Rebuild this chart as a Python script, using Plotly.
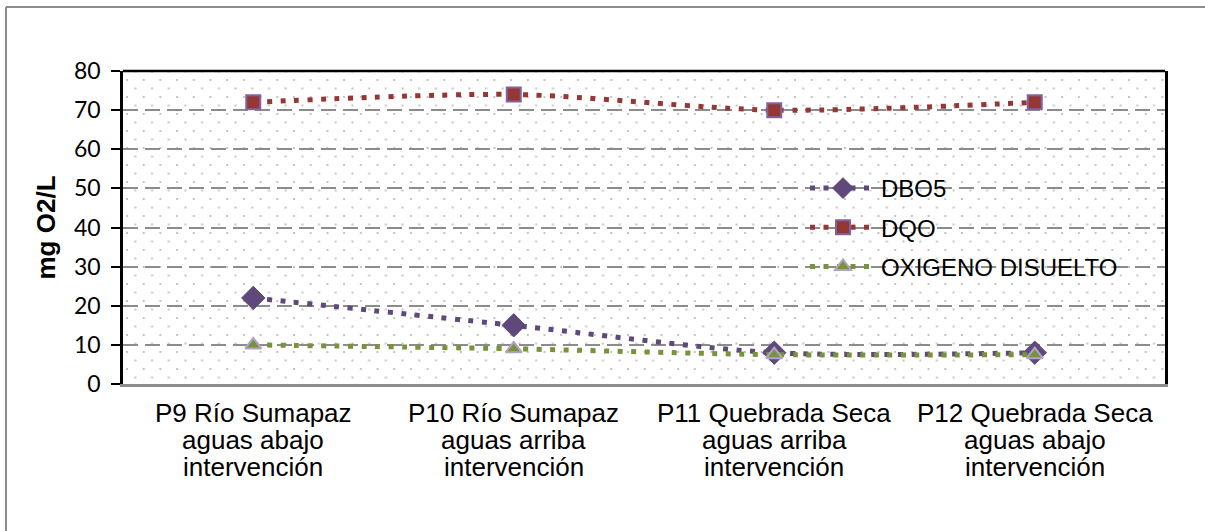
import base64
import plotly.graph_objects as go

# Sampling points (each label is split into three lines under the axis)
categories = [
    "P9 Río Sumapaz<br>aguas abajo<br>intervención",
    "P10 Río Sumapaz<br>aguas arriba<br>intervención",
    "P11 Quebrada Seca<br>aguas arriba<br>intervención",
    "P12 Quebrada Seca<br>aguas abajo<br>intervención",
]
dbo5 = [22, 15, 8, 8]
dqo = [72, 74, 70, 72]
oxigeno = [10, 9, 7.5, 7.5]
y_ticks = [0, 10, 20, 30, 40, 50, 60, 70, 80]

W, H = 1205, 531
L, R, T, B = 123, 40, 71, 147
pw, ph = W - L - R, H - T - B

xpos = list(range(len(categories)))

# dotted background fill for the plot area
svg = (
    f'<svg xmlns="http://www.w3.org/2000/svg" width="{pw}" height="{ph}">'
    '<defs><pattern id="p" width="16.7" height="17" patternUnits="userSpaceOnUse" x="3" y="8">'
    '<rect x="0" y="0" width="2" height="2" fill="#c4c4c4"/>'
    '<rect x="8.35" y="8.5" width="2" height="2" fill="#c4c4c4"/>'
    '</pattern></defs>'
    f'<rect width="{pw}" height="{ph}" fill="url(#p)"/></svg>'
)
bg_uri = "data:image/svg+xml;base64," + base64.b64encode(svg.encode()).decode()

fig = go.Figure()

series = [
    ("DBO5", dbo5, "#5f497a", dict(symbol="diamond", size=18, color="#5f497a",
                                     line=dict(color="#604a7b", width=1))),
    ("DQO", dqo, "#953735", dict(symbol="square", size=14, color="#953735",
                                   line=dict(color="#8064a2", width=2))),
    ("OXIGENO DISUELTO", oxigeno, "#77933c", dict(symbol="triangle-up", size=14, color="#77933c",
                                                    line=dict(color="#b3a2c7", width=2))),
]
for name, vals, col, mk in series:
    fig.add_trace(go.Scatter(
        x=xpos, y=vals, name=name, mode="lines+markers",
        line=dict(color=col, width=5, dash="5px,8.5px", shape="spline", smoothing=0.8),
        marker=mk, legendgroup=name,
    ))

# category labels, one annotation per text line
annotations = []
for i, lab in enumerate(categories):
    for j, line in enumerate(lab.split("<br>")):
        annotations.append(dict(
            x=i, xref="x", y=0, yref="paper", text=line, showarrow=False,
            xanchor="center", yanchor="middle", yshift=-29 - 27 * j,
            font=dict(family="Liberation Sans, Arial", size=26, color="#000000"),
        ))
annotations.append(dict(
    x=(45 - L) / pw, xref="paper", y=0.5, yref="paper", text="<b>mg O2/L</b>",
    textangle=-90, showarrow=False, xanchor="center", yanchor="middle",
    font=dict(family="Liberation Sans, Arial", size=26, color="#000000"),
))

fig.update_layout(
    width=W, height=H,
    margin=dict(l=L, r=R, t=T, b=B),
    paper_bgcolor="white",
    plot_bgcolor="rgba(0,0,0,0)",
    showlegend=True,
    legend=dict(
        x=(805 - L) / pw, y=(H - B - 166) / ph, xanchor="left", yanchor="top",
        bgcolor="rgba(0,0,0,0)", itemwidth=66, traceorder="grouped", tracegroupgap=5,
        font=dict(family="Liberation Sans, Arial", size=24, color="#000000"),
    ),
    annotations=annotations,
    images=[dict(source=bg_uri, xref="paper", yref="paper", x=0, y=1, sizex=1, sizey=1,
                 xanchor="left", yanchor="top", sizing="stretch", layer="below")],
    shapes=[
        # outer chart frame (left and top edges)
        dict(type="line", xref="paper", yref="paper",
             x0=(6 - L) / pw, x1=(6 - L) / pw, y0=-(B + 20) / ph, y1=1 + (T - 7) / ph,
             line=dict(color="#8c8c8c", width=2)),
        dict(type="line", xref="paper", yref="paper",
             x0=(6 - L) / pw, x1=(W + 20 - L) / pw, y0=1 + (T - 7) / ph, y1=1 + (T - 7) / ph,
             line=dict(color="#8c8c8c", width=2)),
        # top edge of plot area
        dict(type="line", xref="paper", yref="paper", x0=0, x1=1, y0=1, y1=1,
             line=dict(color="#000000", width=2.5)),
    ],
)

fig.update_xaxes(
    range=[-0.5, len(categories) - 0.5], showticklabels=False, ticks="",
    showgrid=False, zeroline=False,
    showline=True, linecolor="#8c8c8c", linewidth=2.5,
)
fig.update_yaxes(
    range=[0, 80], tickvals=y_ticks, ticks="outside", ticklen=9, tickwidth=2,
    tickcolor="#000000", ticklabelstandoff=6,
    tickfont=dict(family="Lato, Carlito, Calibri", size=23, color="#000000"),
    showline=True, linecolor="#000000", linewidth=2.5, mirror=True,
    showgrid=True, gridcolor="#8c8c8c", gridwidth=2, griddash="15px,7px",
    zeroline=False,
)

fig.write_html("out.html")
